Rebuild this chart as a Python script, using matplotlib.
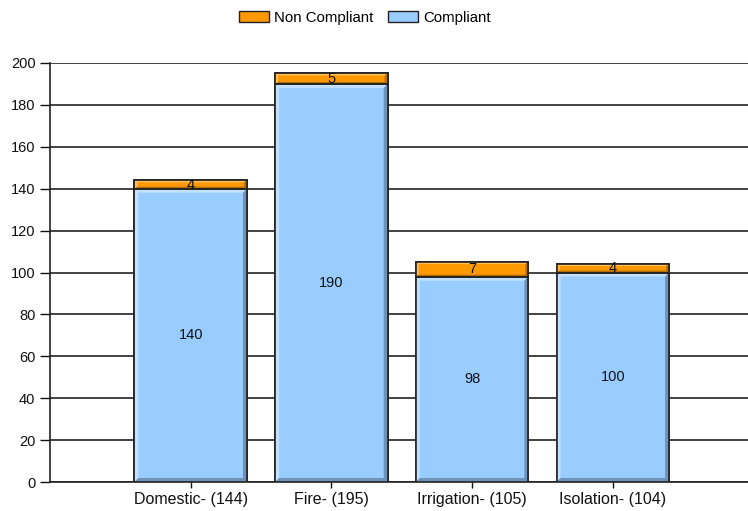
import matplotlib.pyplot as plt
from matplotlib.patches import Polygon
from matplotlib.patches import Patch

categories = ['Domestic- (144)', 'Fire- (195)', 'Irrigation- (105)', 'Isolation- (104)']
compliant = [140, 190, 98, 100]
non_compliant = [4, 5, 7, 4]

plt.rcParams['font.family'] = ['Liberation Sans', 'DejaVu Sans']

fig = plt.figure(figsize=(7.48, 5.11), dpi=100)
ax = fig.add_axes([50/748, 29/511, 698/748, 419/511])

xs = list(range(1, len(categories) + 1))
width = 0.8
ax.set_xlim(0, 698/140.7)
ax.set_ylim(0, 200)

blue = '#99ccff'
orange = '#ff9900'

b1 = ax.bar(xs, compliant, width, color=blue, edgecolor='#222222', linewidth=1.2, zorder=3)
b2 = ax.bar(xs, non_compliant, width, bottom=compliant, color=orange, edgecolor='#222222', linewidth=1.2, zorder=3)

# bevel effect, sizes in pixels converted to data units
px_x = 1/140.7
px_y = 200/419


def bevel(bar, light, dark, bx=3, by=3):
    x0 = bar.get_x()
    x1 = x0 + bar.get_width()
    y0 = bar.get_y()
    y1 = y0 + bar.get_height()
    dx = bx * px_x
    dy = by * px_y
    top_left = [(x0, y0), (x0, y1), (x1, y1), (x1 - dx, y1 - dy), (x0 + dx, y1 - dy), (x0 + dx, y0 + dy)]
    bot_right = [(x1, y1), (x1, y0), (x0, y0), (x0 + dx, y0 + dy), (x1 - dx, y0 + dy), (x1 - dx, y1 - dy)]
    ax.add_patch(Polygon(top_left, closed=True, facecolor=light, edgecolor='none', zorder=3.5))
    ax.add_patch(Polygon(bot_right, closed=True, facecolor=dark, edgecolor='none', zorder=3.5))
    ax.add_patch(plt.Rectangle((x0, y0), x1 - x0, y1 - y0, fill=False, edgecolor='#222222', linewidth=1.2, zorder=3.6))


for bar in b1:
    bevel(bar, '#c2e0ff', '#6f93b8', 4, 4)
for bar in b2:
    bevel(bar, '#ffbd5c', '#b86e00', 3, 2)

for x, c, n in zip(xs, compliant, non_compliant):
    ax.text(x, c / 2, str(c), ha='center', va='center', fontsize=10.5, color='#111111', zorder=5)
    ax.text(x, c + n / 2, str(n), ha='center', va='center', fontsize=10.5, color='#111111', zorder=5)

ax.set_yticks(range(0, 201, 20))
ax.set_xticks(xs)
ax.set_xticklabels(categories)
ax.yaxis.grid(True, color='#222222', linewidth=1.2, zorder=1)
ax.set_axisbelow(True)
for s in ['top', 'right']:
    ax.spines[s].set_visible(False)
ax.spines['left'].set_color('#222222')
ax.spines['bottom'].set_color('#222222')
ax.spines['left'].set_linewidth(1.2)
ax.spines['bottom'].set_linewidth(1.2)
ax.tick_params(axis='y', labelsize=10.5, colors='#111111', length=7.5, width=1, pad=3)
ax.tick_params(axis='x', labelsize=11.5, colors='#111111', length=4, width=1, pad=3)

handles = [Patch(facecolor=orange, edgecolor='#222222', label='Non Compliant'),
           Patch(facecolor=blue, edgecolor='#222222', label='Compliant')]
fig.legend(handles=handles, loc='upper center', bbox_to_anchor=(0.488, 1.005), ncol=2, frameon=False,
           fontsize=10.8, handlelength=2.0, handleheight=0.75, columnspacing=1.0, handletextpad=0.35)

fig.savefig('out.png', dpi=100)
